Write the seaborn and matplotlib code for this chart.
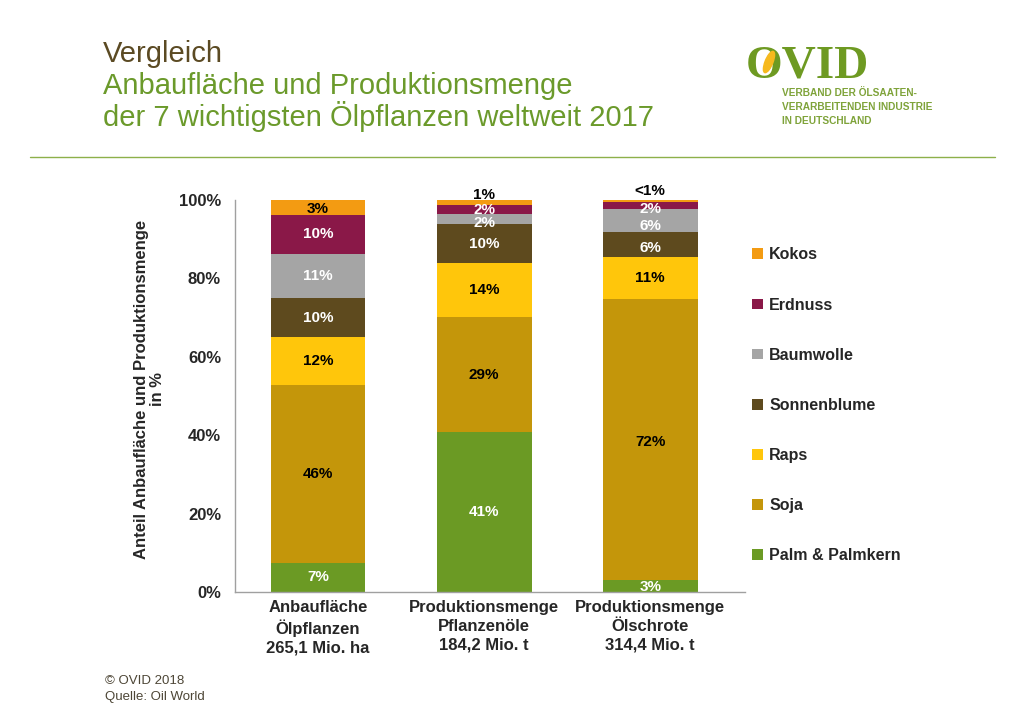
import matplotlib
matplotlib.use("Agg")
import matplotlib.pyplot as plt
import seaborn as sns
import numpy as np
from matplotlib.patches import Patch, Ellipse
from matplotlib.lines import Line2D

# ---------------- data ----------------
categories = ["Anbaufläche\nÖlpflanzen\n265,1 Mio. ha",
              "Produktionsmenge\nPflanzenöle\n184,2 Mio. t",
              "Produktionsmenge\nÖlschrote\n314,4 Mio. t"]
series = ["Palm & Palmkern", "Soja", "Raps", "Sonnenblume", "Baumwolle", "Erdnuss", "Kokos"]
palm = [7.4, 40.8, 3.0]
soja = [45.4, 29.3, 71.7]
raps = [12.2, 13.8, 10.8]
sonnenblume = [9.9, 10.0, 6.4]
baumwolle = [11.2, 2.6, 5.7]
erdnuss = [10.2, 2.3, 1.9]
kokos = [3.6, 1.3, 0.4]
values = [palm, soja, raps, sonnenblume, baumwolle, erdnuss, kokos]
labels_palm = ["7%", "41%", "3%"]
labels_soja = ["46%", "29%", "72%"]
labels_raps = ["12%", "14%", "11%"]
labels_sonnenblume = ["10%", "10%", "6%"]
labels_baumwolle = ["11%", "2%", "6%"]
labels_erdnuss = ["10%", "2%", "2%"]
labels_kokos = ["3%", "1%", "<1%"]
seg_labels = [labels_palm, labels_soja, labels_raps, labels_sonnenblume,
              labels_baumwolle, labels_erdnuss, labels_kokos]
yticks = [0, 20, 40, 60, 80, 100]
ytick_labels = ["0%", "20%", "40%", "60%", "80%", "100%"]

colors = ["#6B9A24", "#C4960A", "#FFC60B", "#5E4A1E", "#A5A5A5", "#8A1848", "#F39B12"]
text_colors = ["white", "black", "black", "white", "white", "white", "black"]

# ---------------- style ----------------
sns.set_style("white")
plt.rcParams["font.family"] = ["Liberation Sans", "DejaVu Sans"]

fig = plt.figure(figsize=(10.24, 7.2), dpi=100)
ax = fig.add_axes([235 / 1024, 1 - 592 / 720, 510 / 1024, 392 / 720])

bottom = np.zeros(len(categories))
for s, vals, col in zip(series, values, colors):
    sns.barplot(x=categories, y=vals, bottom=bottom, color=col, saturation=1,
                width=0.57, errorbar=None, ax=ax, linewidth=0, label=s)
    bottom = bottom + np.array(vals)
if ax.get_legend() is not None:
    ax.get_legend().remove()

# segment labels
offsets_px = {(0, 6): -2, (1, 6): 5, (2, 6): 9, (1, 5): -1, (1, 4): -4,
              (2, 5): -3, (2, 4): -5, (2, 3): -4, (2, 0): -1, (2, 1): -2}
base = np.zeros(len(categories))
for k, (vals, labs) in enumerate(zip(values, seg_labels)):
    for i, (v, lab) in enumerate(zip(vals, labs)):
        if k == 6 and i > 0:
            y = base[i] + v
            tc = "black"
        else:
            y = base[i] + v / 2
            tc = text_colors[k]
        off = offsets_px.get((i, k), 0) * 0.72
        ax.annotate(lab, (i, y), xytext=(0, off), textcoords="offset points",
                    ha="center", va="center", fontsize=11, fontweight="bold",
                    color=tc, annotation_clip=False)
    base = base + np.array(vals)

ax.set_ylim(0, 100)
ax.set_xlim(-0.5, 2.57)
ax.set_yticks(yticks)
ax.set_yticklabels(ytick_labels, fontsize=12, fontweight="bold")
ax.tick_params(axis="y", length=0, pad=10)
ax.tick_params(axis="x", length=0, pad=6)
for t in ax.get_xticklabels():
    t.set_fontsize(12)
    t.set_fontweight("bold")
    t.set_linespacing(1.28)
    t.set_va("top")
for sp in ["top", "right"]:
    ax.spines[sp].set_visible(False)
for sp in ["left", "bottom"]:
    ax.spines[sp].set_color("#A0A0A0")
    ax.spines[sp].set_linewidth(1)
ax.set_ylabel("Anteil Anbaufläche und Produktionsmenge\nin %", fontsize=12,
              fontweight="bold", linespacing=1.1)
ax.yaxis.set_label_coords(-0.167, 0.517)
ax.yaxis.label.set_va("center")

# legend
handles = [Patch(facecolor=c, edgecolor="none") for c in colors][::-1]
fig.legend(handles, series[::-1], loc="upper left",
           bbox_to_anchor=(738 / 1024, 1 - 233 / 720), frameon=False,
           prop={"size": 11.5, "weight": "bold"}, handlelength=0.65,
           handleheight=0.65, handletextpad=0.4, labelspacing=2.2)

# titles
fig.text(103 / 1024, 1 - 62 / 720, "Vergleich", fontsize=21, color="#5B4A23",
         va="baseline")
fig.text(103 / 1024, 1 - 94 / 720, "Anbaufläche und Produktionsmenge",
         fontsize=21, color="#6B9A2B", va="baseline")
fig.text(103 / 1024, 1 - 126 / 720, "der 7 wichtigsten Ölpflanzen weltweit 2017",
         fontsize=21, color="#6B9A2B", va="baseline")

# separator line
fig.add_artist(Line2D([30 / 1024, 995 / 1024], [1 - 157 / 720, 1 - 157 / 720],
                      color="#8DB04A", linewidth=1))

# logo
fig.text(746 / 1024, 1 - 77 / 720, "OVID", fontsize=34, fontweight="bold",
         family=["Liberation Serif", "DejaVu Serif"], color="#6E9A22",
         va="baseline")
fig.add_artist(Ellipse((769 / 1024, 1 - 62 / 720), 8 / 1024, 22 / 720,
                       angle=-15, color="#F6B91E", zorder=5))
for j, line in enumerate(["VERBAND DER ÖLSAATEN-",
                          "VERARBEITENDEN INDUSTRIE",
                          "IN DEUTSCHLAND"]):
    fig.text(782 / 1024, 1 - (93 + 14 * j) / 720, line, fontsize=7.3,
             fontweight="bold", color="#7FA33A", va="center")

# footer
fig.text(105 / 1024, 1 - 681 / 720, "© OVID 2018", fontsize=9.5,
         color="#4D4636", va="center")
fig.text(105 / 1024, 1 - 697 / 720, "Quelle: Oil World", fontsize=9.5,
         color="#4D4636", va="center")

fig.savefig("out.png", dpi=100)
